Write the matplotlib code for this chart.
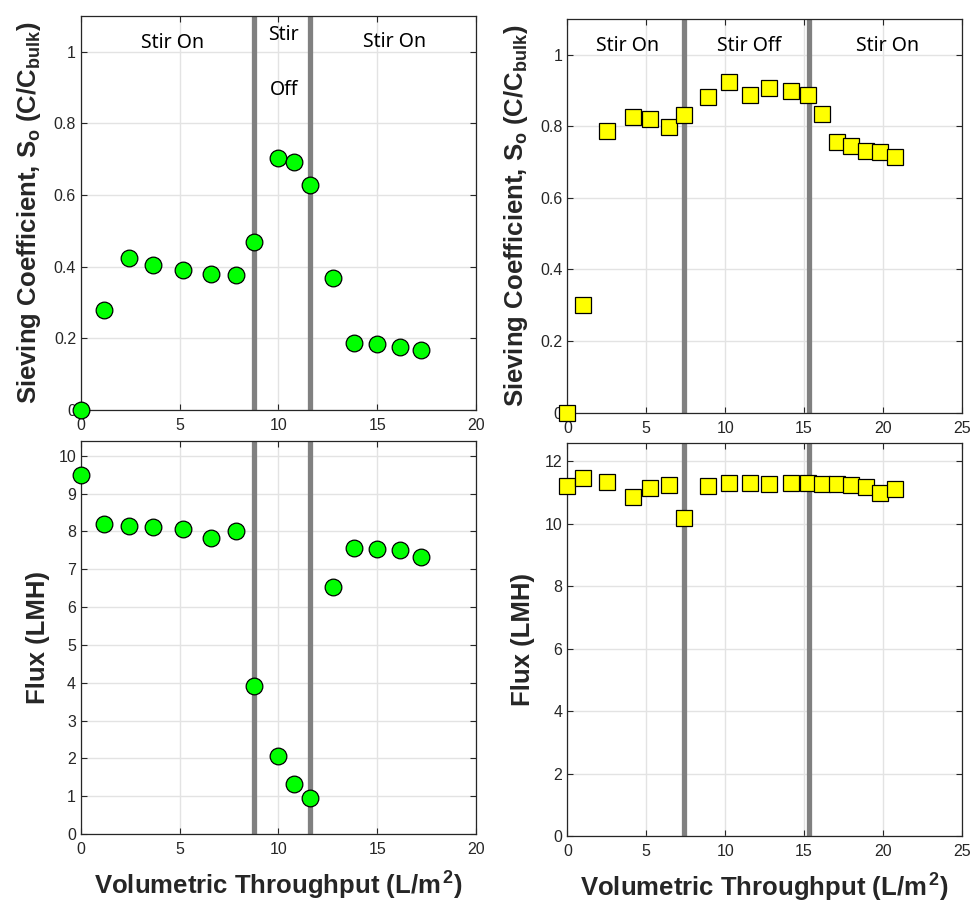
import numpy as np
import matplotlib.pyplot as plt

# left case: circles
x_left = [0, 1.18, 2.43, 3.67, 5.15, 6.6, 7.87, 8.78, 9.98, 10.81, 11.6, 12.77, 13.83, 14.98, 16.15, 17.21]
so_left = [0, 0.278, 0.425, 0.405, 0.391, 0.380, 0.376, 0.469, 0.703, 0.692, 0.629, 0.368, 0.187, 0.185, 0.176, 0.167]
flux_left = [9.49, 8.20, 8.15, 8.12, 8.07, 7.82, 8.0, 3.92, 2.05, 1.32, 0.94, 6.53, 7.55, 7.53, 7.51, 7.32]
stir_left = [8.75, 11.6]

# right case: squares
x_right = [0, 1.01, 2.51, 4.14, 5.24, 6.47, 7.40, 8.94, 10.25, 11.56, 12.76, 14.18, 15.28,
           16.17, 17.08, 18.0, 18.94, 19.84, 20.77]
so_right = [0, 0.300, 0.786, 0.827, 0.821, 0.799, 0.833, 0.883, 0.923, 0.887, 0.908, 0.899, 0.888,
            0.835, 0.757, 0.744, 0.732, 0.727, 0.713]
flux_right = [11.20, 11.46, 11.35, 10.85, 11.14, 11.23, 10.18, 11.22, 11.30, 11.30, 11.29, 11.30, 11.30,
              11.28, 11.29, 11.23, 11.18, 10.98, 11.13]
stir_right = [7.4, 15.3]

plt.rcParams['font.family'] = ['Liberation Sans', 'DejaVu Sans']
plt.rcParams['mathtext.fontset'] = 'custom'
plt.rcParams['mathtext.rm'] = 'Liberation Sans'
plt.rcParams['mathtext.bf'] = 'Liberation Sans:bold'
plt.rcParams['mathtext.it'] = 'Liberation Sans:italic'

dark = '#262626'
fig = plt.figure(figsize=(9.72, 9.02), dpi=100)

ax_tl = fig.add_axes([0.0833, 0.5455, 0.4064, 0.4368])
ax_bl = fig.add_axes([0.0833, 0.0754, 0.4064, 0.4360])
ax_tr = fig.add_axes([0.5837, 0.5425, 0.4058, 0.4365])
ax_br = fig.add_axes([0.5837, 0.0732, 0.4058, 0.4360])

so_label = r'Sieving Coefficient, S$_\mathbf{o}$ (C/C$_\mathbf{bulk}$)'
flux_label = 'Flux (LMH)'
x_label = r'Volumetric Throughput (L/m$^{\,\mathbf{2}}$)'
lab = dict(fontsize=18.5, fontweight='bold', color=dark)


def style(ax, xmax, ymax, xticks, yticks):
    ax.set_xlim(0, xmax)
    ax.set_ylim(0, ymax)
    ax.set_xticks(xticks)
    ax.set_yticks(yticks)
    ax.grid(True, color='#e3e3e3', lw=1)
    ax.set_axisbelow(True)
    ax.tick_params(direction='in', top=True, right=True, length=4, width=0.8,
                   colors=dark, labelsize=11.5, labelcolor=dark)
    ax.tick_params(axis='x', pad=6)
    for s in ax.spines.values():
        s.set_color(dark)
        s.set_linewidth(0.9)


def stir_lines(ax, xs):
    for xv in xs:
        ax.axvline(xv, color='#808080', lw=3.8, zorder=2)


# top-left
style(ax_tl, 20, 1.1, [0, 5, 10, 15, 20], [0, 0.2, 0.4, 0.6, 0.8, 1])
ax_tl.set_yticklabels(['0', '0.2', '0.4', '0.6', '0.8', '1'])
stir_lines(ax_tl, stir_left)
ax_tl.plot(x_left, so_left, 'o', ms=12, mfc='#00ff00', mec='black', mew=0.9, zorder=3, clip_on=False)
ax_tl.set_ylabel(so_label, **lab)
ax_tl.yaxis.set_label_coords(-0.096, 0.5)
tfont = dict(family=['Noto Sans', 'DejaVu Sans'], fontsize=14, ha='center', va='center')
ax_tl.text(4.66, 1.025, 'Stir On', **tfont)
ax_tl.text(10.27, 1.047, 'Stir', **tfont)
ax_tl.text(10.27, 0.893, 'Off', **tfont)
ax_tl.text(15.9, 1.027, 'Stir On', **tfont)

# bottom-left
style(ax_bl, 20, 10.4, [0, 5, 10, 15, 20], list(range(0, 11)))
stir_lines(ax_bl, stir_left)
ax_bl.plot(x_left, flux_left, 'o', ms=12, mfc='#00ff00', mec='black', mew=0.9, zorder=3, clip_on=False)
ax_bl.set_ylabel(flux_label, **lab)
ax_bl.yaxis.set_label_coords(-0.078, 0.5)
ax_bl.set_xlabel(x_label, **lab)
ax_bl.xaxis.set_label_coords(0.5, -0.09)

# top-right
style(ax_tr, 25, 1.1, [0, 5, 10, 15, 20, 25], [0, 0.2, 0.4, 0.6, 0.8, 1])
ax_tr.set_yticklabels(['0', '0.2', '0.4', '0.6', '0.8', '1'])
stir_lines(ax_tr, stir_right)
ax_tr.plot(x_right, so_right, 's', ms=11.5, mfc='#ffff00', mec='black', mew=0.9, zorder=3, clip_on=False)
ax_tr.set_ylabel(so_label, **lab)
ax_tr.yaxis.set_label_coords(-0.094, 0.5)
ax_tr.text(3.83, 1.024, 'Stir On', **tfont)
ax_tr.text(11.5, 1.024, 'Stir Off', **tfont)
ax_tr.text(20.3, 1.024, 'Stir On', **tfont)

# bottom-right
style(ax_br, 25, 12.6, [0, 5, 10, 15, 20, 25], [0, 2, 4, 6, 8, 10, 12])
stir_lines(ax_br, stir_right)
ax_br.plot(x_right, flux_right, 's', ms=11.5, mfc='#ffff00', mec='black', mew=0.9, zorder=3, clip_on=False)
ax_br.set_ylabel(flux_label, **lab)
ax_br.yaxis.set_label_coords(-0.081, 0.5)
ax_br.set_xlabel(x_label, **lab)
ax_br.xaxis.set_label_coords(0.5, -0.09)

fig.savefig('out.png', dpi=100)
